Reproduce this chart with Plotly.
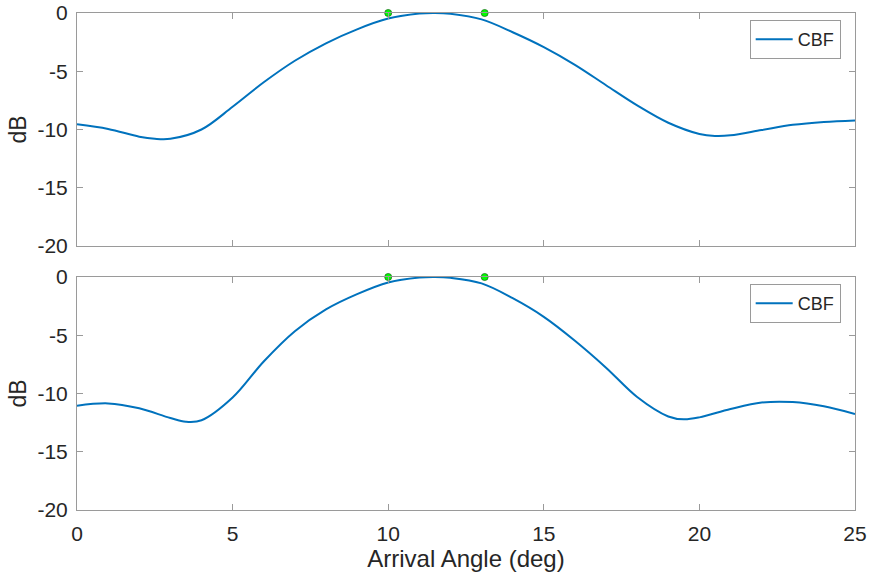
import plotly.graph_objects as go
from plotly.subplots import make_subplots

# Beam power (dB) versus arrival angle, two array snapshots
angle_top = [0, 1, 2, 2.5, 3, 4, 5, 6, 7, 8, 9, 10, 11, 11.5, 12, 13, 14, 15, 16, 17,
             18, 19, 20, 20.5, 21, 22, 23, 24, 25]
db_top = [-9.55, -9.95, -10.62, -10.8, -10.8, -10.0, -8.05, -5.95, -4.1, -2.6, -1.4, -0.48,
          -0.05, 0.0, -0.07, -0.55, -1.65, -2.93, -4.45, -6.2, -7.93, -9.42, -10.38, -10.55,
          -10.5, -10.05, -9.6, -9.35, -9.22]

angle_bot = [0, 1, 2, 3, 3.5, 4, 5, 6, 7, 8, 9, 10, 11, 11.5, 12, 13, 14, 15, 16, 17,
             18, 19, 19.5, 20, 21, 22, 23, 24, 25]
db_bot = [-11.05, -10.85, -11.27, -12.1, -12.42, -12.3, -10.35, -7.25, -4.65, -2.78, -1.47,
          -0.47, -0.05, 0.0, -0.07, -0.55, -1.82, -3.42, -5.47, -7.78, -10.3, -11.97, -12.22,
          -12.05, -11.33, -10.78, -10.74, -11.1, -11.76]

# Source directions marked on the 0 dB line
source_angles = [10.0, 13.1]
source_db = [0.0, 0.0]

y_ticks = [0, -5, -10, -15, -20]
y_ticktext = ["0", "-5", "-10", "-15", "-20"]
x_ticks = [0, 5, 10, 15, 20, 25]
x_ticktext = ["0", "5", "10", "15", "20", "25"]

LINE = "#0072BD"
AXIS = "#9a9a9a"
TEXT = "#262626"
FONT = "Liberation Sans, Arial, sans-serif"

fig = make_subplots(rows=2, cols=1, shared_xaxes=False, vertical_spacing=31 / 497)

panels = [(angle_top, db_top, 1, "legend"), (angle_bot, db_bot, 2, "legend2")]
for ang, db, row, leg in panels:
    fig.add_trace(go.Scatter(x=ang, y=db, mode="lines", name="CBF",
                             line=dict(color=LINE, width=2, shape="spline", smoothing=1.0),
                             legend=leg, showlegend=True), row=row, col=1)
    fig.add_trace(go.Scatter(x=source_angles, y=source_db, mode="markers",
                             marker=dict(color="#00ff00", size=7,
                                         line=dict(color="#1f6f1f", width=0.8)),
                             showlegend=False, cliponaxis=False), row=row, col=1)

for row in (1, 2):
    fig.update_xaxes(range=[0, 25], tickvals=x_ticks, ticktext=x_ticktext,
                     showticklabels=(row == 2), ticks="inside", ticklen=6, tickcolor=AXIS,
                     showline=True, linecolor=AXIS, linewidth=1, mirror="ticks",
                     showgrid=False, zeroline=False, automargin=False,
                     tickfont=dict(family=FONT, size=21, color=TEXT),
                     ticklabelstandoff=5, row=row, col=1)
    fig.update_yaxes(range=[-20, 0], tickvals=y_ticks, ticktext=y_ticktext,
                     ticks="inside", ticklen=6, tickcolor=AXIS,
                     showline=True, linecolor=AXIS, linewidth=1, mirror="ticks",
                     showgrid=False, zeroline=False, automargin=False,
                     tickfont=dict(family=FONT, size=21, color=TEXT),
                     title=dict(text="dB", font=dict(family=FONT, size=23, color=TEXT), standoff=4),
                     ticklabelstandoff=4, row=row, col=1)

fig.update_xaxes(title=dict(text="Arrival Angle (deg)",
                            font=dict(family=FONT, size=24, color=TEXT), standoff=4),
                 row=2, col=1)

legend_style = dict(xanchor="right", yanchor="top", x=0.9816,
                    bgcolor="white", bordercolor=AXIS, borderwidth=1,
                    font=dict(family=FONT, size=18, color=TEXT),
                    itemwidth=37, tracegroupgap=0)
fig.update_layout(
    width=871, height=580,
    margin=dict(l=77, r=16, t=13, b=70),
    paper_bgcolor="white", plot_bgcolor="white",
    legend=dict(y=(510 - 20) / 497, **legend_style),
    legend2=dict(y=(510 - 284) / 497, **legend_style),
)

fig.write_html("out.html")
